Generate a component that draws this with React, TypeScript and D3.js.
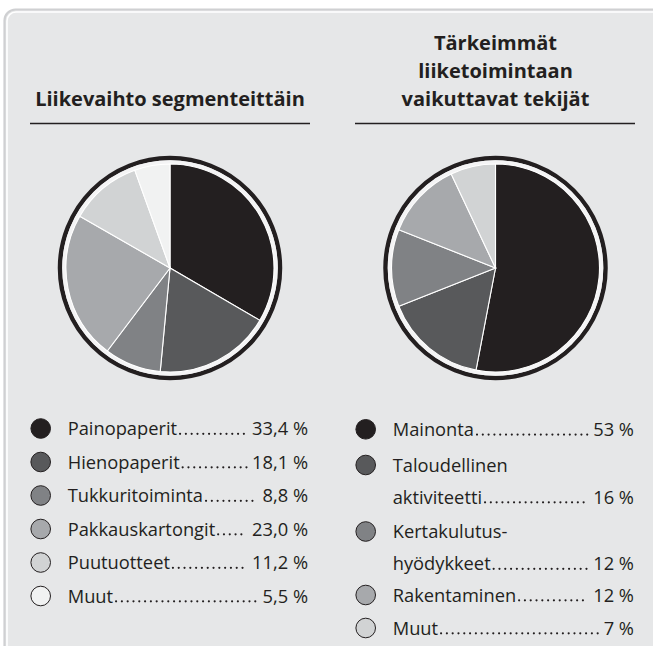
import * as d3 from "d3";

const segLabels = [
  ["Painopaperit"],
  ["Hienopaperit"],
  ["Tukkuritoiminta"],
  ["Pakkauskartongit"],
  ["Puutuotteet"],
  ["Muut"],
];
const segValues = [33.4, 18.1, 8.8, 23.0, 11.2, 5.5];
const segColors = ["#231f20", "#58595b", "#808285", "#a7a9ac", "#d1d3d4", "#f1f2f2"];

const drvLabels = [
  ["Mainonta"],
  ["Taloudellinen", "aktiviteetti"],
  ["Kertakulutus-", "hyödykkeet"],
  ["Rakentaminen"],
  ["Muut"],
];
const drvValues = [53, 16, 12, 12, 7];
const drvColors = ["#231f20", "#58595b", "#808285", "#a7a9ac", "#d1d3d4"];

const fmt = (v: number, dec: number) => v.toFixed(dec).replace(".", ",") + " %";

const FONT = "'Open Sans', 'Noto Sans', sans-serif";
const ink = "#231f20";
const legendSize = 18.3;

let ctx: CanvasRenderingContext2D | null = null;
function textWidth(s: string, size: number) {
  if (!ctx) ctx = document.createElement("canvas").getContext("2d");
  ctx!.font = `${size}px 'Open Sans', 'Noto Sans', sans-serif`;
  return ctx!.measureText(s).width;
}

function Pie({ cx, cy, values, colors }: { cx: number; cy: number; values: number[]; colors: string[] }) {
  const r = 104;
  const arcs = d3.pie<number>().sort(null)(values);
  const arc = d3.arc<d3.PieArcDatum<number>>().innerRadius(0).outerRadius(r);
  return (
    <g transform={`translate(${cx},${cy})`}>
      <circle r={110} fill="none" stroke={ink} strokeWidth={4.5} />
      <circle r={107.8} fill="#f4f4f5" />
      {arcs.map((a, i) => (
        <path key={i} d={arc(a) || ""} fill={colors[i]} stroke="#ffffff" strokeWidth={1.1} />
      ))}
    </g>
  );
}

function Legend({
  x,
  right,
  rowsY,
  labels,
  values,
  colors,
  dec,
}: {
  x: number;
  right: number;
  rowsY: number[];
  labels: string[][];
  values: number[];
  colors: string[];
  dec: number;
}) {
  const lineGap = 32;
  return (
    <g fontFamily={FONT} fontSize={legendSize} fill={ink}>
      {labels.map((lines, i) => {
        const y = rowsY[i];
        const lastY = y + 6.5 + (lines.length - 1) * lineGap;
        const val = fmt(values[i], dec);
        const lastW = textWidth(lines[lines.length - 1], legendSize);
        const valW = textWidth(val, legendSize);
        const x1 = x + 27 + lastW + 3;
        const x2 = right - valW - 5;
        return (
          <g key={i}>
            <circle cx={x} cy={y} r={9.8} fill={colors[i]} stroke={ink} strokeWidth={1} />
            {lines.map((t, j) => (
              <text key={j} x={x + 27} y={y + 6.5 + j * lineGap}>
                {t}
              </text>
            ))}
            <line
              x1={x1}
              x2={x2}
              y1={lastY - 1.2}
              y2={lastY - 1.2}
              stroke={ink}
              strokeWidth={2.2}
              strokeDasharray="0 5.8"
              strokeLinecap="round"
            />
            <text x={right} y={lastY} textAnchor="end">
              {val}
            </text>
          </g>
        );
      })}
    </g>
  );
}

export default function App() {
  const W = 653;
  const H = 646;
  const leftCx = 170;
  const rightCx = 495.5;
  const pieCy = 268;
  const titleSize = 20;

  return (
    <svg width={W} height={H} style={{ position: "absolute", left: 0, top: 0 }}>
      <rect x={0} y={0} width={W} height={H} fill="#ffffff" />
      <rect x={4.5} y={9.5} width={720} height={720} rx={11} fill="#e6e7e8" stroke="#cfd0d2" strokeWidth={2.2} />
      <rect x={7} y={12} width={720} height={720} rx={9} fill="none" stroke="#ffffff" strokeWidth={1.6} />

      <g fontFamily={FONT} fontWeight={700} fontSize={titleSize} fill={ink} textAnchor="middle">
        <text x={leftCx} y={106}>Liikevaihto segmenteittäin</text>
        <text x={rightCx} y={50}>Tärkeimmät</text>
        <text x={rightCx} y={78}>liiketoimintaan</text>
        <text x={rightCx} y={106}>vaikuttavat tekijät</text>
      </g>
      <line x1={30} x2={310} y1={123.5} y2={123.5} stroke={ink} strokeWidth={1.3} />
      <line x1={355} x2={635} y1={123.5} y2={123.5} stroke={ink} strokeWidth={1.3} />

      <Pie cx={leftCx} cy={pieCy} values={segValues} colors={segColors} />
      <Pie cx={rightCx} cy={pieCy} values={drvValues} colors={drvColors} />

      <Legend
        x={40.7}
        right={308}
        rowsY={[428.5, 462, 495.5, 529, 562.5, 596]}
        labels={segLabels}
        values={segValues}
        colors={segColors}
        dec={1}
      />
      <Legend
        x={365.7}
        right={634}
        rowsY={[429.3, 465, 531.5, 595, 628]}
        labels={drvLabels}
        values={drvValues}
        colors={drvColors}
        dec={0}
      />
    </svg>
  );
}
